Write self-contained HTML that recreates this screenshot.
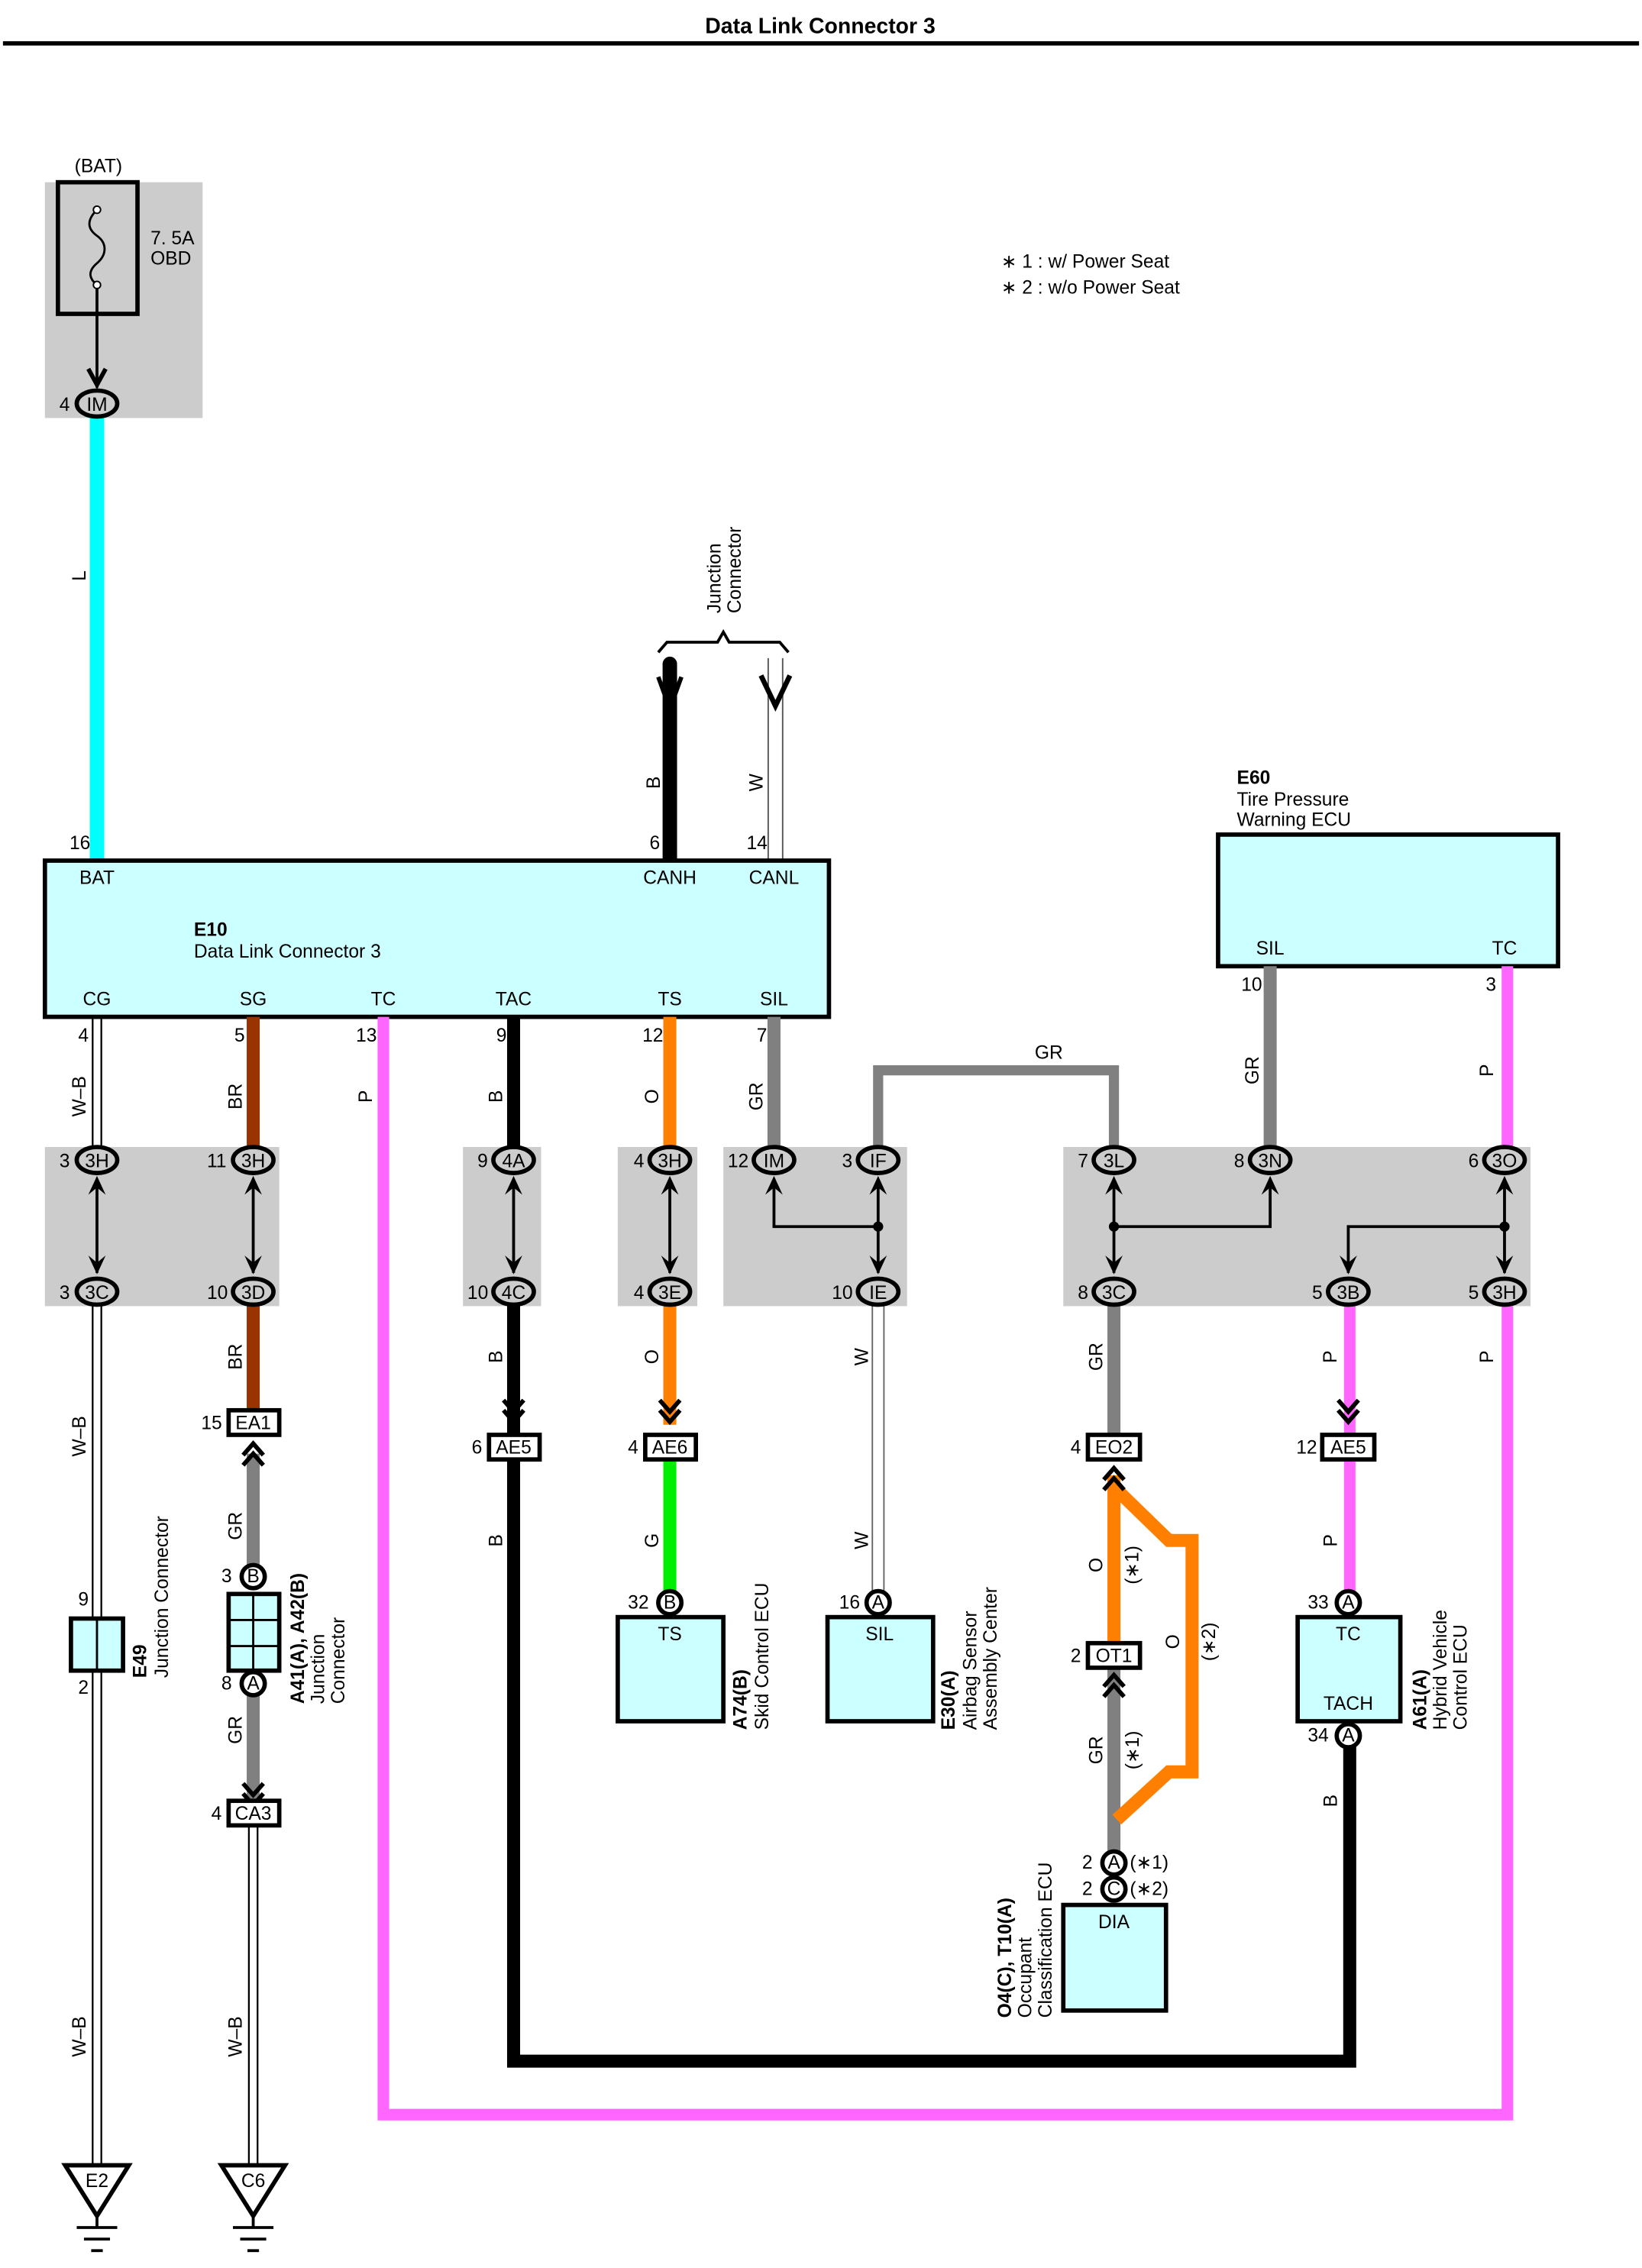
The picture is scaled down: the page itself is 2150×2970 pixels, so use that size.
<!DOCTYPE html>
<html><head><meta charset="utf-8"><style>
html,body{margin:0;padding:0;background:#fff}
svg{display:block}
text{font-family:"Liberation Sans",sans-serif;font-size:13px;fill:#000}
.b{font-weight:bold}
.m{text-anchor:middle}
</style></head><body>
<svg width="2150" height="2970" viewBox="0 0 1135 1568" xmlns="http://www.w3.org/2000/svg">
<rect width="1135" height="1568" fill="#fff"/>
<text x="567" y="23" class="b m" style="font-size:15px">Data Link Connector 3</text>
<line x1="2" y1="30" x2="1133" y2="30" stroke="#000" stroke-width="3"/>

<g fill="#cccccc">
<rect x="31" y="126" width="109" height="163"/>
<rect x="31" y="793" width="162" height="110"/>
<rect x="320" y="793" width="54" height="110"/>
<rect x="427" y="793" width="55" height="110"/>
<rect x="500" y="793" width="127" height="110"/>
<rect x="735" y="793" width="323" height="110"/>
</g>

<text x="68" y="119" class="m">(BAT)</text>
<rect x="40" y="126" width="55" height="91" fill="none" stroke="#000" stroke-width="3"/>
<path d="M67 145 C60 152,60 158,67 163 C74 168,74 176,67 182 C60 188,62 193,67 197" fill="none" stroke="#000" stroke-width="1.5"/>
<circle cx="67" cy="145" r="2.5" fill="#fff" stroke="#000"/><circle cx="67" cy="197" r="2.5" fill="#fff" stroke="#000"/>
<line x1="67" y1="199" x2="67" y2="268" stroke="#000" stroke-width="2"/>
<polyline points="61,255 67,266 73,255" fill="none" stroke="#000" stroke-width="3"/>
<text x="104" y="169">7. 5A</text><text x="104" y="183">OBD</text>

<line x1="67" y1="287" x2="67" y2="595" stroke="#00ffff" stroke-width="10"/>
<text transform="rotate(-90 59 398)" x="59" y="398" class="m">L</text>

<line x1="463" y1="459" x2="463" y2="595" stroke="#000" stroke-width="10"/>
<circle cx="463" cy="459" r="5" fill="#000"/>
<polyline points="455,468 463,490 471,468" fill="none" stroke="#000" stroke-width="3"/>
<line x1="531" y1="455" x2="531" y2="595" stroke="#555" stroke-width="1"/>
<line x1="541" y1="455" x2="541" y2="595" stroke="#555" stroke-width="1"/>
<polyline points="526,467 536,488 546,467" fill="none" stroke="#000" stroke-width="3.5"/>
<polyline points="455,451 461,444 496,444 500,437 504,444 539,444 545,451" fill="none" stroke="#000" stroke-width="2"/>
<text transform="rotate(-90 498 424)" x="498" y="424">Junction</text>
<text transform="rotate(-90 512 424)" x="512" y="424">Connector</text>
<text transform="rotate(-90 456 541)" x="456" y="541" class="m">B</text>
<text transform="rotate(-90 527 541)" x="527" y="541" class="m">W</text>
<text x="449" y="587">6</text><text x="516" y="587">14</text><text x="48" y="587">16</text>

<rect x="31" y="595" width="542" height="108" fill="#ccffff" stroke="#000" stroke-width="3"/>
<text x="67" y="611" class="m">BAT</text><text x="463" y="611" class="m">CANH</text><text x="535" y="611" class="m">CANL</text>
<text x="134" y="647" class="b">E10</text><text x="134" y="662">Data Link Connector 3</text>
<text x="67" y="695" class="m">CG</text><text x="175" y="695" class="m">SG</text><text x="265" y="695" class="m">TC</text>
<text x="355" y="695" class="m">TAC</text><text x="463" y="695" class="m">TS</text><text x="535" y="695" class="m">SIL</text>
<text x="54" y="720">4</text>
<text x="162" y="720">5</text><text x="246" y="720">13</text><text x="343" y="720">9</text><text x="444" y="720">12</text><text x="523" y="720">7</text>

<text x="855" y="542" class="b">E60</text><text x="855" y="557">Tire Pressure</text><text x="855" y="571">Warning ECU</text>
<rect x="842" y="577" width="235" height="91" fill="#ccffff" stroke="#000" stroke-width="3"/>
<text x="878" y="660" class="m">SIL</text><text x="1040" y="660" class="m">TC</text>
<text x="858" y="685">10</text><text x="1027" y="685">3</text>

<text x="692" y="185">∗ 1 : w/ Power Seat</text>
<text x="692" y="203">∗ 2 : w/o Power Seat</text>

<g fill="none" stroke-linejoin="miter">
<polyline points="265,703 265,1462 1042,1462 1042,903" stroke="#ff66ff" stroke-width="8"/>
<line x1="1042" y1="668" x2="1042" y2="795" stroke="#ff66ff" stroke-width="8"/>
<line x1="355" y1="703" x2="355" y2="795" stroke="#000" stroke-width="9"/>
<polyline points="355,903 355,1425 933,1425 933,1200" stroke="#000" stroke-width="9"/>
<line x1="175" y1="703" x2="175" y2="795" stroke="#993300" stroke-width="9"/>
<line x1="175" y1="903" x2="175" y2="975" stroke="#993300" stroke-width="9"/>
<line x1="463" y1="703" x2="463" y2="795" stroke="#ff8000" stroke-width="9"/>
<line x1="463" y1="903" x2="463" y2="985" stroke="#ff8000" stroke-width="9"/>
<line x1="463" y1="1010" x2="463" y2="1100" stroke="#00ee00" stroke-width="9"/>
<line x1="535" y1="703" x2="535" y2="795" stroke="#808080" stroke-width="9"/>
<polyline points="607,795 607,740 770,740 770,795" stroke="#808080" stroke-width="7"/>
<line x1="878" y1="668" x2="878" y2="795" stroke="#808080" stroke-width="9"/>
<line x1="770" y1="903" x2="770" y2="992" stroke="#808080" stroke-width="9"/>
<line x1="770" y1="1150" x2="770" y2="1285" stroke="#808080" stroke-width="9"/>
<line x1="770" y1="1020" x2="770" y2="1138" stroke="#ff8000" stroke-width="9"/>
<polyline points="772,1030 808,1065 824,1065 824,1225 808,1225 772,1258" stroke="#ff8000" stroke-width="9"/>
<line x1="933" y1="903" x2="933" y2="1100" stroke="#ff66ff" stroke-width="8"/>
<line x1="175" y1="1005" x2="175" y2="1085" stroke="#808080" stroke-width="9"/>
<line x1="175" y1="1170" x2="175" y2="1245" stroke="#808080" stroke-width="9"/>
</g>
<g stroke="#000" stroke-width="1.2">
<line x1="64" y1="703" x2="64" y2="795"/><line x1="70" y1="703" x2="70" y2="795"/>
<line x1="64" y1="903" x2="64" y2="1497"/><line x1="70" y1="903" x2="70" y2="1497"/>
<line x1="172" y1="1262" x2="172" y2="1497"/><line x1="178" y1="1262" x2="178" y2="1497"/>
</g>
<g stroke="#666" stroke-width="1">
<line x1="603" y1="903" x2="603" y2="1100"/><line x1="611" y1="903" x2="611" y2="1100"/>
</g>

<g fill="none" stroke="#000" stroke-width="2">
<line x1="67" y1="815" x2="67" y2="880"/><line x1="175" y1="815" x2="175" y2="880"/>
<line x1="355" y1="815" x2="355" y2="880"/><line x1="463" y1="815" x2="463" y2="880"/>
<polyline points="535,815 535,848 607,848"/><line x1="607" y1="815" x2="607" y2="880"/>
<polyline points="770,815 770,880"/><polyline points="770,848 878,848 878,815"/>
<line x1="1040" y1="815" x2="1040" y2="880"/><polyline points="1040,848 932,848 932,880"/>
</g>
<g fill="#000">
<circle cx="607" cy="848" r="3.5"/><circle cx="770" cy="848" r="3.5"/><circle cx="1040" cy="848" r="3.5"/>
<path d="M61 826 L67 813 L73 826 L67 821Z"/><path d="M169 826 L175 813 L181 826 L175 821Z"/>
<path d="M349 826 L355 813 L361 826 L355 821Z"/><path d="M457 826 L463 813 L469 826 L463 821Z"/>
<path d="M529 826 L535 813 L541 826 L535 821Z"/><path d="M601 826 L607 813 L613 826 L607 821Z"/>
<path d="M764 826 L770 813 L776 826 L770 821Z"/><path d="M872 826 L878 813 L884 826 L878 821Z"/>
<path d="M1034 826 L1040 813 L1046 826 L1040 821Z"/>
<path d="M61 868 L67 881 L73 868 L67 873Z"/><path d="M169 868 L175 881 L181 868 L175 873Z"/>
<path d="M349 868 L355 881 L361 868 L355 873Z"/><path d="M457 868 L463 881 L469 868 L463 873Z"/>
<path d="M601 868 L607 881 L613 868 L607 873Z"/><path d="M764 868 L770 881 L776 868 L770 873Z"/>
<path d="M926 868 L932 881 L938 868 L932 873Z"/><path d="M1034 868 L1040 881 L1046 868 L1040 873Z"/>
</g>

<g stroke="#000" stroke-width="3" fill="#cccccc">
<ellipse cx="67" cy="279" rx="14" ry="9"/>
<ellipse cx="67" cy="802" rx="14" ry="9"/><ellipse cx="175" cy="802" rx="14" ry="9"/>
<ellipse cx="355" cy="802" rx="14" ry="9"/><ellipse cx="463" cy="802" rx="14" ry="9"/>
<ellipse cx="535" cy="802" rx="14" ry="9"/><ellipse cx="607" cy="802" rx="14" ry="9"/>
<ellipse cx="770" cy="802" rx="14" ry="9"/><ellipse cx="878" cy="802" rx="14" ry="9"/><ellipse cx="1040" cy="802" rx="14" ry="9"/>
<ellipse cx="67" cy="893" rx="14" ry="9"/><ellipse cx="175" cy="893" rx="14" ry="9"/>
<ellipse cx="355" cy="893" rx="14" ry="9"/><ellipse cx="463" cy="893" rx="14" ry="9"/>
<ellipse cx="607" cy="893" rx="14" ry="9"/><ellipse cx="770" cy="893" rx="14" ry="9"/>
<ellipse cx="932" cy="893" rx="14" ry="9"/><ellipse cx="1040" cy="893" rx="14" ry="9"/>
</g>
<g>
<text x="67" y="284" class="m">IM</text><text x="41" y="284">4</text>
<text x="67" y="807" class="m">3H</text><text x="175" y="807" class="m">3H</text><text x="355" y="807" class="m">4A</text>
<text x="463" y="807" class="m">3H</text><text x="535" y="807" class="m">IM</text><text x="607" y="807" class="m">IF</text>
<text x="770" y="807" class="m">3L</text><text x="878" y="807" class="m">3N</text><text x="1040" y="807" class="m">3O</text>
<text x="67" y="898" class="m">3C</text><text x="175" y="898" class="m">3D</text><text x="355" y="898" class="m">4C</text>
<text x="463" y="898" class="m">3E</text><text x="607" y="898" class="m">IE</text><text x="770" y="898" class="m">3C</text>
<text x="932" y="898" class="m">3B</text><text x="1040" y="898" class="m">3H</text>
</g>
<g>
<text x="41" y="807">3</text><text x="143" y="807">11</text><text x="330" y="807">9</text><text x="438" y="807">4</text>
<text x="503" y="807">12</text><text x="582" y="807">3</text><text x="745" y="807">7</text><text x="853" y="807">8</text><text x="1015" y="807">6</text>
<text x="41" y="898">3</text><text x="143" y="898">10</text><text x="323" y="898">10</text><text x="438" y="898">4</text>
<text x="575" y="898">10</text><text x="745" y="898">8</text><text x="907" y="898">5</text><text x="1015" y="898">5</text>
</g>

<g>
<text transform="rotate(-90 59 758)" x="59" y="758" class="m">W–B</text>
<text transform="rotate(-90 167 758)" x="167" y="758" class="m">BR</text>
<text transform="rotate(-90 257 758)" x="257" y="758" class="m">P</text>
<text transform="rotate(-90 347 758)" x="347" y="758" class="m">B</text>
<text transform="rotate(-90 455 758)" x="455" y="758" class="m">O</text>
<text transform="rotate(-90 527 758)" x="527" y="758" class="m">GR</text>
<text x="725" y="732" class="m">GR</text>
<text transform="rotate(-90 870 740)" x="870" y="740" class="m">GR</text>
<text transform="rotate(-90 1032 740)" x="1032" y="740" class="m">P</text>
<text transform="rotate(-90 59 993)" x="59" y="993" class="m">W–B</text>
<text transform="rotate(-90 167 938)" x="167" y="938" class="m">BR</text>
<text transform="rotate(-90 347 938)" x="347" y="938" class="m">B</text>
<text transform="rotate(-90 455 938)" x="455" y="938" class="m">O</text>
<text transform="rotate(-90 600 938)" x="600" y="938" class="m">W</text>
<text transform="rotate(-90 762 938)" x="762" y="938" class="m">GR</text>
<text transform="rotate(-90 924 938)" x="924" y="938" class="m">P</text>
<text transform="rotate(-90 1032 938)" x="1032" y="938" class="m">P</text>
<text transform="rotate(-90 167 1055)" x="167" y="1055" class="m">GR</text>
<text transform="rotate(-90 347 1065)" x="347" y="1065" class="m">B</text>
<text transform="rotate(-90 455 1065)" x="455" y="1065" class="m">G</text>
<text transform="rotate(-90 600 1065)" x="600" y="1065" class="m">W</text>
<text transform="rotate(-90 924 1065)" x="924" y="1065" class="m">P</text>
<text transform="rotate(-90 762 1082)" x="762" y="1082" class="m">O</text>
<text transform="rotate(-90 787 1082)" x="787" y="1082" class="m">(∗1)</text>
<text transform="rotate(-90 815 1135)" x="815" y="1135" class="m">O</text>
<text transform="rotate(-90 840 1135)" x="840" y="1135" class="m">(∗2)</text>
<text transform="rotate(-90 762 1210)" x="762" y="1210" class="m">GR</text>
<text transform="rotate(-90 787 1210)" x="787" y="1210" class="m">(∗1)</text>
<text transform="rotate(-90 167 1196)" x="167" y="1196" class="m">GR</text>
<text transform="rotate(-90 924 1245)" x="924" y="1245" class="m">B</text>
<text transform="rotate(-90 59 1408)" x="59" y="1408" class="m">W–B</text>
<text transform="rotate(-90 167 1408)" x="167" y="1408" class="m">W–B</text>
</g>

<g fill="none" stroke="#000" stroke-width="3">
<polyline points="348,968 355,976 362,968"/><polyline points="348,975 355,983 362,975"/>
<polyline points="456,968 463,976 470,968"/><polyline points="456,975 463,983 470,975"/>
<polyline points="925,968 932,976 939,968"/><polyline points="925,975 932,983 939,975"/>
<polyline points="168,1240 175,1248 182,1240"/><polyline points="168,1233 175,1241 182,1233"/>
<polyline points="168,1006 175,998 182,1006"/><polyline points="168,1013 175,1005 182,1013"/>
<polyline points="763,1023 770,1015 777,1023"/><polyline points="763,1030 770,1022 777,1030"/>
<polyline points="763,1166 770,1158 777,1166"/><polyline points="763,1173 770,1165 777,1173"/>
</g>

<g fill="#fff" stroke="#000" stroke-width="3">
<rect x="158" y="975" width="35" height="17"/>
<rect x="338" y="992" width="35" height="17"/>
<rect x="446" y="992" width="35" height="17"/>
<rect x="752" y="992" width="36" height="17"/>
<rect x="914" y="992" width="36" height="17"/>
<rect x="752" y="1136" width="36" height="17"/>
<rect x="158" y="1245" width="35" height="17"/>
</g>
<g>
<text x="175" y="988" class="m">EA1</text><text x="139" y="988">15</text>
<text x="355" y="1005" class="m">AE5</text><text x="326" y="1005">6</text>
<text x="463" y="1005" class="m">AE6</text><text x="434" y="1005">4</text>
<text x="770" y="1005" class="m">EO2</text><text x="740" y="1005">4</text>
<text x="932" y="1005" class="m">AE5</text><text x="896" y="1005">12</text>
<text x="770" y="1149" class="m">OT1</text><text x="740" y="1149">2</text>
<text x="175" y="1258" class="m">CA3</text><text x="146" y="1258">4</text>
</g>

<g fill="#ccffff" stroke="#000" stroke-width="3">
<rect x="49" y="1119" width="36" height="36"/>
<rect x="158" y="1102" width="35" height="53"/>
<rect x="427" y="1118" width="73" height="72"/>
<rect x="572" y="1118" width="73" height="72"/>
<rect x="897" y="1118" width="71" height="72"/>
<rect x="735" y="1317" width="71" height="73"/>
</g>
<line x1="67" y1="1119" x2="67" y2="1155" stroke="#000" stroke-width="1.5"/>
<g stroke="#000" stroke-width="1.5"><line x1="175" y1="1102" x2="175" y2="1155"/><line x1="158" y1="1120" x2="193" y2="1120"/><line x1="158" y1="1138" x2="193" y2="1138"/></g>
<text x="54" y="1110">9</text><text x="54" y="1171">2</text>

<g fill="#fff" stroke="#000" stroke-width="3">
<circle cx="175" cy="1090" r="8"/><circle cx="175" cy="1164" r="8"/>
<circle cx="463" cy="1108" r="8"/><circle cx="607" cy="1108" r="8"/>
<circle cx="932" cy="1108" r="8"/><circle cx="932" cy="1200" r="8"/>
<circle cx="770" cy="1288" r="8"/><circle cx="770" cy="1306" r="8"/>
</g>
<g style="font-size:12px">
<text x="175" y="1094" class="m">B</text><text x="175" y="1168" class="m">A</text>
<text x="463" y="1112" class="m">B</text><text x="607" y="1112" class="m">A</text>
<text x="932" y="1112" class="m">A</text><text x="932" y="1204" class="m">A</text>
<text x="770" y="1292" class="m">A</text><text x="770" y="1310" class="m">C</text>
</g>
<text x="153" y="1094">3</text><text x="153" y="1168">8</text>
<text x="434" y="1112">32</text><text x="580" y="1112">16</text>
<text x="904" y="1112">33</text><text x="904" y="1204">34</text>
<text x="748" y="1292">2</text><text x="748" y="1310">2</text>
<text x="781" y="1292">(∗1)</text><text x="781" y="1310">(∗2)</text>
<text x="463" y="1134" class="m">TS</text><text x="608" y="1134" class="m">SIL</text>
<text x="932" y="1134" class="m">TC</text><text x="932" y="1182" class="m">TACH</text>
<text x="770" y="1333" class="m">DIA</text>

<text transform="rotate(-90 101 1160)" x="101" y="1160" class="b">E49</text>
<text transform="rotate(-90 116 1160)" x="116" y="1160">Junction Connector</text>
<text transform="rotate(-90 210 1178)" x="210" y="1178" class="b">A41(A), A42(B)</text>
<text transform="rotate(-90 224 1178)" x="224" y="1178">Junction</text>
<text transform="rotate(-90 238 1178)" x="238" y="1178">Connector</text>
<text transform="rotate(-90 516 1196)" x="516" y="1196" class="b">A74(B)</text>
<text transform="rotate(-90 531 1196)" x="531" y="1196">Skid Control ECU</text>
<text transform="rotate(-90 660 1196)" x="660" y="1196" class="b">E30(A)</text>
<text transform="rotate(-90 675 1196)" x="675" y="1196">Airbag Sensor</text>
<text transform="rotate(-90 689 1196)" x="689" y="1196">Assembly Center</text>
<text transform="rotate(-90 986 1196)" x="986" y="1196" class="b">A61(A)</text>
<text transform="rotate(-90 1000 1196)" x="1000" y="1196">Hybrid Vehicle</text>
<text transform="rotate(-90 1014 1196)" x="1014" y="1196">Control ECU</text>
<text transform="rotate(-90 699 1395)" x="699" y="1395" class="b">O4(C), T10(A)</text>
<text transform="rotate(-90 713 1395)" x="713" y="1395">Occupant</text>
<text transform="rotate(-90 727 1395)" x="727" y="1395">Classification ECU</text>

<g fill="#fff" stroke="#000" stroke-width="3">
<polygon points="45,1497 89,1497 67,1532"/>
<polygon points="153,1497 197,1497 175,1532"/>
</g>
<g stroke="#000" stroke-width="2">
<line x1="67" y1="1532" x2="67" y2="1540"/><line x1="53" y1="1540" x2="81" y2="1540"/><line x1="58" y1="1548" x2="76" y2="1548"/><line x1="63" y1="1556" x2="71" y2="1556"/>
<line x1="175" y1="1532" x2="175" y2="1540"/><line x1="161" y1="1540" x2="189" y2="1540"/><line x1="166" y1="1548" x2="184" y2="1548"/><line x1="171" y1="1556" x2="179" y2="1556"/>
</g>
<text x="67" y="1512" class="m">E2</text><text x="175" y="1512" class="m">C6</text>
</svg>
</body></html>
